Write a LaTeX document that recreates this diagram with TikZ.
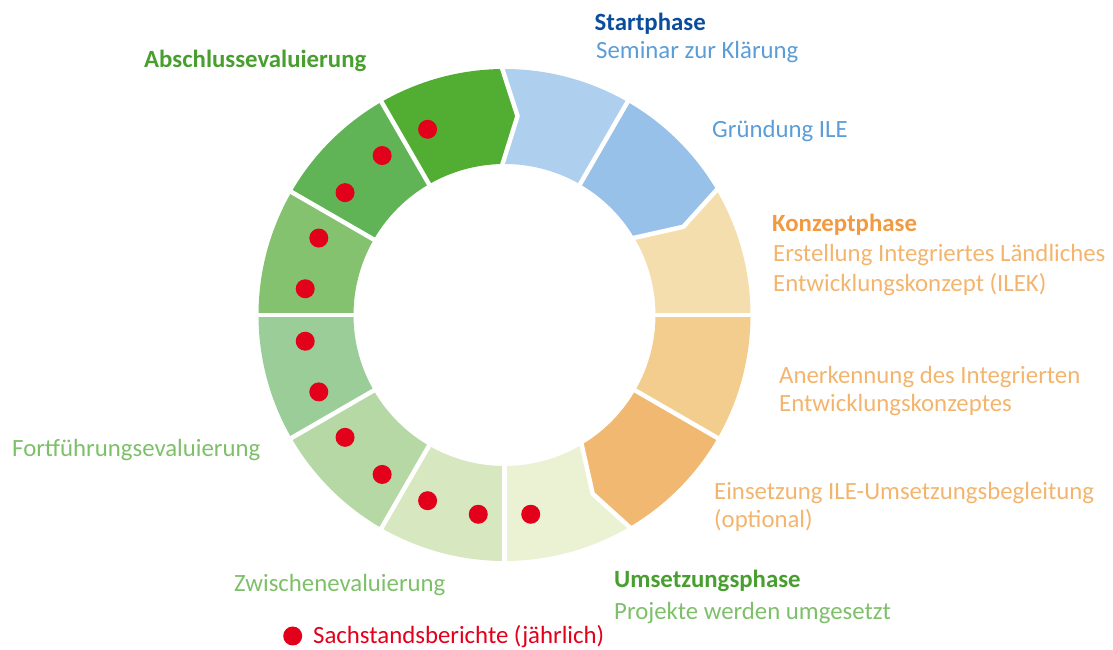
\documentclass[tikz,border=0pt]{standalone}
\usepackage{fontspec}
\setmainfont{Carlito}
\definecolor{sA}{RGB}{175,207,238}
\definecolor{sB}{RGB}{151,193,232}
\definecolor{sC}{RGB}{245,222,174}
\definecolor{sD}{RGB}{243,205,141}
\definecolor{sE}{RGB}{240,184,112}
\definecolor{sF}{RGB}{234,242,211}
\definecolor{sG}{RGB}{215,231,191}
\definecolor{sH}{RGB}{182,216,165}
\definecolor{sI}{RGB}{155,205,152}
\definecolor{sJ}{RGB}{132,194,111}
\definecolor{sK}{RGB}{96,180,86}
\definecolor{sL}{RGB}{82,174,50}
\definecolor{dotred}{RGB}{226,0,26}
\definecolor{startblue}{RGB}{10,77,156}
\definecolor{txtblue}{RGB}{91,157,215}
\definecolor{konzorange}{RGB}{242,154,66}
\definecolor{txtorange}{RGB}{243,181,110}
\definecolor{headgreen}{RGB}{72,158,46}
\definecolor{txtgreen}{RGB}{125,192,105}
\begin{document}
\begin{tikzpicture}[x=1pt,y=1pt,
  lbl/.style={anchor=base west, inner sep=0pt, font=\fontsize{24.8}{29}\selectfont},
  hd/.style={anchor=base west, inner sep=0pt, font=\fontsize{24.8}{29}\selectfont\bfseries},
  gap/.style={white, line width=4.5, line join=miter}]
\useasboundingbox (0,0) rectangle (1113,650);
\begin{scope}[shift={(504.5,335)}]
  % segments (clockwise, 30 degrees each); chevron boundaries at 90, 30, -60
  \foreach \col/\angA/\fa/\fb in {sA/90/1/0, sB/60/0/1, sC/30/1/0, sD/0/0/0,
      sE/-30/0/1, sF/-60/1/0, sG/-90/0/0, sH/-120/0/0, sI/-150/0/0,
      sJ/-180/0/0, sK/-210/0/0, sL/-240/0/1}{
    \pgfmathsetmacro\angB{\angA-30}
    \pgfmathsetmacro\oA{\angA+0.93*\fa}
    \pgfmathsetmacro\iA{\angA+1.52*\fa}
    \pgfmathsetmacro\kA{\angA-3.74*\fa}
    \pgfmathsetmacro\rA{198.5+0.9*\fa}
    \pgfmathsetmacro\oB{\angB+0.93*\fb}
    \pgfmathsetmacro\iB{\angB+1.52*\fb}
    \pgfmathsetmacro\kB{\angB-3.74*\fb}
    \pgfmathsetmacro\rB{198.5+0.9*\fb}
    \fill[\col] (\oA:246) -- (\kA:\rA) -- (\iA:151)
      arc[start angle=\iA, end angle=\iB, radius=151]
      -- (\kB:\rB) -- (\oB:246)
      arc[start angle=\oB, end angle=\oA, radius=246] -- cycle;
  }
  % white gaps
  \foreach \t/\f in {90/1, 60/0, 30/1, 0/0, -30/0, -60/1, -90/0,
      -120/0, -150/0, 180/0, 150/0, 120/0}{
    \pgfmathsetmacro\oT{\t+0.93*\f}
    \pgfmathsetmacro\iT{\t+1.52*\f}
    \pgfmathsetmacro\kT{\t-3.74*\f}
    \pgfmathsetmacro\rT{198.5+0.9*\f}
    \draw[gap] (\oT:252) -- (\kT:\rT) -- (\iT:145);
  }
  % report dots
  \foreach \k in {0,...,11}
    \fill[dotred] ({112.5+15*\k}:201) circle[radius=9.5];
\end{scope}
% labels
\node[hd, text=startblue] (start) at (594.5,619) {Startphase};
\node[lbl, text=txtblue] (seminar) at (596,591) {Seminar zur Klärung};
\node[lbl, text=txtblue] (gruendung) at (712,512) {Gründung ILE};
\node[hd, text=konzorange] (konzept) at (772,418) {Konzeptphase};
\node[lbl, text=txtorange] (erst1) at (773,388) {Erstellung Integriertes Ländliches};
\node[lbl, text=txtorange] (erst2) at (773,358) {Entwicklungskonzept (ILEK)};
\node[lbl, text=txtorange] (aner1) at (779,266.7) {Anerkennung des Integrierten};
\node[lbl, text=txtorange] (aner2) at (779,238.3) {Entwicklungskonzeptes};
\node[lbl, text=txtorange] (eins1) at (714,150) {Einsetzung ILE-Umsetzungsbegleitung};
\node[lbl, text=txtorange] (eins2) at (714,122) {(optional)};
\node[hd, text=headgreen] (umsetz) at (614,62.7) {Umsetzungsphase};
\node[lbl, text=txtgreen] (projekte) at (614,30) {Projekte werden umgesetzt};
\node[lbl, text=txtgreen] (zwischen) at (234,58.3) {Zwischenevaluierung};
\node[lbl, text=txtgreen] (fortf) at (12,193) {Fortführungsevaluierung};
\node[hd, text=headgreen] (abschl) at (144,582.7) {Abschlussevaluierung};
\fill[dotred] (292.7,14) circle[radius=9.5];
\node[lbl, text=dotred] (sachstand) at (313,6.7) {Sachstandsberichte (jährlich)};
\end{tikzpicture}
\end{document}
